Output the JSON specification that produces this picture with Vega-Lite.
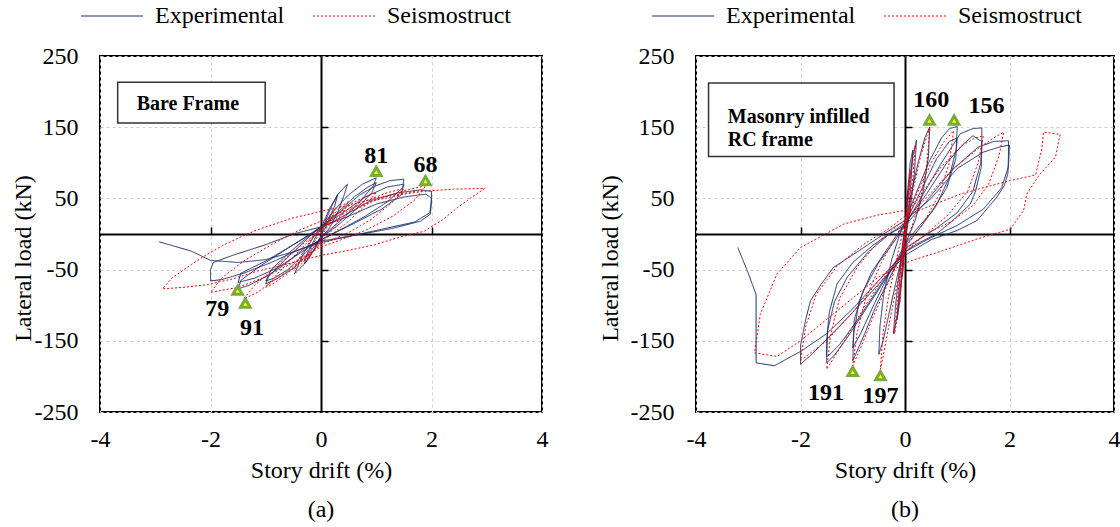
{
"$schema":"https://vega.github.io/schema/vega-lite/v6.json",
"autosize":{"type":"pad"},
"padding":{"left":10,"top":3,"right":5,"bottom":5},
"background":"white",
"spacing":154,
"bounds":"flush",
"config":{
 "font":"Liberation Serif",
 "view":{"stroke":"black","strokeWidth":2},
 "axis":{"labelFont":"Liberation Serif","titleFont":"Liberation Serif","labelFontSize":24,"titleFontSize":24,"labelColor":"black","titleColor":"black","titleFontWeight":"normal"},
 "text":{"font":"Liberation Serif"}
},
"datasets":{
"curves":[
{"p":"a","s":"E","i":1,"x":0,"y":0},{"p":"a","s":"E","i":2,"x":0.1,"y":22},{"p":"a","s":"E","i":3,"x":0.2,"y":40},{"p":"a","s":"E","i":4,"x":0.3,"y":55},{"p":"a","s":"E","i":5,"x":0.25,"y":40},{"p":"a","s":"E","i":6,"x":0.1,"y":12},{"p":"a","s":"E","i":7,"x":0,"y":-2},{"p":"a","s":"E","i":8,"x":-0.1,"y":-18},{"p":"a","s":"E","i":9,"x":-0.2,"y":-32},{"p":"a","s":"E","i":10,"x":-0.3,"y":-42},
{"p":"a","s":"E","i":11,"x":-0.25,"y":-28},{"p":"a","s":"E","i":12,"x":-0.1,"y":-5},{"p":"a","s":"E","i":13,"x":0,"y":8},{"p":"a","s":"E","i":14,"x":0.15,"y":35},{"p":"a","s":"E","i":15,"x":0.3,"y":55},{"p":"a","s":"E","i":16,"x":0.4,"y":64},{"p":"a","s":"E","i":17,"x":0.48,"y":70},{"p":"a","s":"E","i":18,"x":0.42,"y":55},{"p":"a","s":"E","i":19,"x":0.3,"y":30},{"p":"a","s":"E","i":20,"x":0.15,"y":8},
{"p":"a","s":"E","i":21,"x":0,"y":-5},{"p":"a","s":"E","i":22,"x":-0.15,"y":-25},{"p":"a","s":"E","i":23,"x":-0.3,"y":-42},{"p":"a","s":"E","i":24,"x":-0.48,"y":-56},{"p":"a","s":"E","i":25,"x":-0.42,"y":-45},{"p":"a","s":"E","i":26,"x":-0.3,"y":-25},{"p":"a","s":"E","i":27,"x":-0.1,"y":0},{"p":"a","s":"E","i":28,"x":0,"y":8},{"p":"a","s":"E","i":29,"x":0.2,"y":30},{"p":"a","s":"E","i":30,"x":0.5,"y":55},
{"p":"a","s":"E","i":31,"x":0.75,"y":70},{"p":"a","s":"E","i":32,"x":1.0,"y":79},{"p":"a","s":"E","i":33,"x":0.95,"y":68},{"p":"a","s":"E","i":34,"x":0.7,"y":45},{"p":"a","s":"E","i":35,"x":0.4,"y":22},{"p":"a","s":"E","i":36,"x":0.1,"y":2},{"p":"a","s":"E","i":37,"x":0,"y":-6},{"p":"a","s":"E","i":38,"x":-0.2,"y":-25},{"p":"a","s":"E","i":39,"x":-0.5,"y":-48},{"p":"a","s":"E","i":40,"x":-0.8,"y":-63},
{"p":"a","s":"E","i":41,"x":-1.0,"y":-70},{"p":"a","s":"E","i":42,"x":-0.95,"y":-60},{"p":"a","s":"E","i":43,"x":-0.7,"y":-40},{"p":"a","s":"E","i":44,"x":-0.4,"y":-18},{"p":"a","s":"E","i":45,"x":-0.1,"y":5},{"p":"a","s":"E","i":46,"x":0,"y":10},{"p":"a","s":"E","i":47,"x":0.3,"y":30},{"p":"a","s":"E","i":48,"x":0.6,"y":52},{"p":"a","s":"E","i":49,"x":0.85,"y":66},{"p":"a","s":"E","i":50,"x":1.0,"y":72},
{"p":"a","s":"E","i":51,"x":0.92,"y":58},{"p":"a","s":"E","i":52,"x":0.6,"y":32},{"p":"a","s":"E","i":53,"x":0.3,"y":12},{"p":"a","s":"E","i":54,"x":0,"y":-5},{"p":"a","s":"E","i":55,"x":-0.3,"y":-28},{"p":"a","s":"E","i":56,"x":-0.6,"y":-50},{"p":"a","s":"E","i":57,"x":-0.85,"y":-62},{"p":"a","s":"E","i":58,"x":-1.0,"y":-66},{"p":"a","s":"E","i":59,"x":-0.9,"y":-50},{"p":"a","s":"E","i":60,"x":-0.6,"y":-28},
{"p":"a","s":"E","i":61,"x":-0.3,"y":-8},{"p":"a","s":"E","i":62,"x":0,"y":10},{"p":"a","s":"E","i":63,"x":0.3,"y":28},{"p":"a","s":"E","i":64,"x":0.7,"y":55},{"p":"a","s":"E","i":65,"x":1.0,"y":68},{"p":"a","s":"E","i":66,"x":1.25,"y":75},{"p":"a","s":"E","i":67,"x":1.5,"y":77},{"p":"a","s":"E","i":68,"x":1.48,"y":65},{"p":"a","s":"E","i":69,"x":1.2,"y":45},{"p":"a","s":"E","i":70,"x":0.8,"y":25},
{"p":"a","s":"E","i":71,"x":0.4,"y":8},{"p":"a","s":"E","i":72,"x":0,"y":-8},{"p":"a","s":"E","i":73,"x":-0.3,"y":-20},{"p":"a","s":"E","i":74,"x":-0.7,"y":-45},{"p":"a","s":"E","i":75,"x":-1.0,"y":-60},{"p":"a","s":"E","i":76,"x":-1.3,"y":-72},{"p":"a","s":"E","i":77,"x":-1.5,"y":-77},{"p":"a","s":"E","i":78,"x":-1.45,"y":-65},{"p":"a","s":"E","i":79,"x":-1.1,"y":-45},{"p":"a","s":"E","i":80,"x":-0.7,"y":-25},
{"p":"a","s":"E","i":81,"x":-0.3,"y":-5},{"p":"a","s":"E","i":82,"x":0,"y":10},{"p":"a","s":"E","i":83,"x":0.4,"y":30},{"p":"a","s":"E","i":84,"x":0.8,"y":52},{"p":"a","s":"E","i":85,"x":1.2,"y":66},{"p":"a","s":"E","i":86,"x":1.5,"y":70},{"p":"a","s":"E","i":87,"x":1.45,"y":55},{"p":"a","s":"E","i":88,"x":1.1,"y":35},{"p":"a","s":"E","i":89,"x":0.6,"y":15},{"p":"a","s":"E","i":90,"x":0,"y":-8},
{"p":"a","s":"E","i":91,"x":-0.4,"y":-28},{"p":"a","s":"E","i":92,"x":-0.8,"y":-48},{"p":"a","s":"E","i":93,"x":-1.2,"y":-62},{"p":"a","s":"E","i":94,"x":-1.5,"y":-68},{"p":"a","s":"E","i":95,"x":-1.45,"y":-55},{"p":"a","s":"E","i":96,"x":-1.0,"y":-38},{"p":"a","s":"E","i":97,"x":-0.5,"y":-15},{"p":"a","s":"E","i":98,"x":0,"y":8},{"p":"a","s":"E","i":99,"x":0.4,"y":25},{"p":"a","s":"E","i":100,"x":0.9,"y":47},
{"p":"a","s":"E","i":101,"x":1.4,"y":58},{"p":"a","s":"E","i":102,"x":1.8,"y":62},{"p":"a","s":"E","i":103,"x":2.0,"y":60},{"p":"a","s":"E","i":104,"x":2.0,"y":45},{"p":"a","s":"E","i":105,"x":1.98,"y":28},{"p":"a","s":"E","i":106,"x":1.8,"y":18},{"p":"a","s":"E","i":107,"x":1.3,"y":8},{"p":"a","s":"E","i":108,"x":0.6,"y":-2},{"p":"a","s":"E","i":109,"x":0,"y":-10},{"p":"a","s":"E","i":110,"x":-0.4,"y":-22},
{"p":"a","s":"E","i":111,"x":-0.9,"y":-40},{"p":"a","s":"E","i":112,"x":-1.4,"y":-55},{"p":"a","s":"E","i":113,"x":-1.8,"y":-64},{"p":"a","s":"E","i":114,"x":-2.0,"y":-66},{"p":"a","s":"E","i":115,"x":-2.0,"y":-50},{"p":"a","s":"E","i":116,"x":-1.95,"y":-40},{"p":"a","s":"E","i":117,"x":-1.6,"y":-30},{"p":"a","s":"E","i":118,"x":-1.0,"y":-15},{"p":"a","s":"E","i":119,"x":-0.5,"y":0},{"p":"a","s":"E","i":120,"x":0,"y":10},
{"p":"a","s":"E","i":121,"x":0.5,"y":25},{"p":"a","s":"E","i":122,"x":1.0,"y":42},{"p":"a","s":"E","i":123,"x":1.5,"y":52},{"p":"a","s":"E","i":124,"x":1.9,"y":56},{"p":"a","s":"E","i":125,"x":2.0,"y":50},{"p":"a","s":"E","i":126,"x":1.97,"y":30},{"p":"a","s":"E","i":127,"x":1.7,"y":17},{"p":"a","s":"E","i":128,"x":1.0,"y":5},{"p":"a","s":"E","i":129,"x":0.4,"y":-5},{"p":"a","s":"E","i":130,"x":0,"y":-12},
{"p":"a","s":"E","i":131,"x":-0.5,"y":-25},{"p":"a","s":"E","i":132,"x":-1.0,"y":-36},{"p":"a","s":"E","i":133,"x":-1.5,"y":-40},{"p":"a","s":"E","i":134,"x":-2.0,"y":-37},{"p":"a","s":"E","i":135,"x":-2.35,"y":-24},{"p":"a","s":"E","i":136,"x":-2.93,"y":-11},
{"p":"a","s":"S","i":1,"x":0,"y":0},{"p":"a","s":"S","i":2,"x":0.1,"y":18},{"p":"a","s":"S","i":3,"x":0.25,"y":35},{"p":"a","s":"S","i":4,"x":0.15,"y":15},{"p":"a","s":"S","i":5,"x":0,"y":-5},{"p":"a","s":"S","i":6,"x":-0.1,"y":-20},{"p":"a","s":"S","i":7,"x":-0.25,"y":-35},{"p":"a","s":"S","i":8,"x":-0.15,"y":-15},{"p":"a","s":"S","i":9,"x":0,"y":5},{"p":"a","s":"S","i":10,"x":0.2,"y":25},
{"p":"a","s":"S","i":11,"x":0.35,"y":38},{"p":"a","s":"S","i":12,"x":0.5,"y":46},{"p":"a","s":"S","i":13,"x":0.4,"y":30},{"p":"a","s":"S","i":14,"x":0.2,"y":5},{"p":"a","s":"S","i":15,"x":0,"y":-12},{"p":"a","s":"S","i":16,"x":-0.2,"y":-28},{"p":"a","s":"S","i":17,"x":-0.35,"y":-42},{"p":"a","s":"S","i":18,"x":-0.5,"y":-50},{"p":"a","s":"S","i":19,"x":-0.4,"y":-35},{"p":"a","s":"S","i":20,"x":-0.2,"y":-10},
{"p":"a","s":"S","i":21,"x":0,"y":10},{"p":"a","s":"S","i":22,"x":0.3,"y":28},{"p":"a","s":"S","i":23,"x":0.6,"y":45},{"p":"a","s":"S","i":24,"x":0.85,"y":54},{"p":"a","s":"S","i":25,"x":1.0,"y":58},{"p":"a","s":"S","i":26,"x":0.8,"y":40},{"p":"a","s":"S","i":27,"x":0.5,"y":18},{"p":"a","s":"S","i":28,"x":0.2,"y":0},{"p":"a","s":"S","i":29,"x":0,"y":-12},{"p":"a","s":"S","i":30,"x":-0.3,"y":-35},
{"p":"a","s":"S","i":31,"x":-0.6,"y":-55},{"p":"a","s":"S","i":32,"x":-0.85,"y":-69},{"p":"a","s":"S","i":33,"x":-1.0,"y":-75},{"p":"a","s":"S","i":34,"x":-0.8,"y":-57},{"p":"a","s":"S","i":35,"x":-0.5,"y":-32},{"p":"a","s":"S","i":36,"x":-0.2,"y":-8},{"p":"a","s":"S","i":37,"x":0,"y":8},{"p":"a","s":"S","i":38,"x":0.4,"y":28},{"p":"a","s":"S","i":39,"x":0.8,"y":46},{"p":"a","s":"S","i":40,"x":1.2,"y":58},
{"p":"a","s":"S","i":41,"x":1.5,"y":64},{"p":"a","s":"S","i":42,"x":1.3,"y":45},{"p":"a","s":"S","i":43,"x":0.9,"y":20},{"p":"a","s":"S","i":44,"x":0.5,"y":2},{"p":"a","s":"S","i":45,"x":0,"y":-15},{"p":"a","s":"S","i":46,"x":-0.4,"y":-40},{"p":"a","s":"S","i":47,"x":-0.8,"y":-62},{"p":"a","s":"S","i":48,"x":-1.15,"y":-82},{"p":"a","s":"S","i":49,"x":-1.4,"y":-91},{"p":"a","s":"S","i":50,"x":-1.2,"y":-72},
{"p":"a","s":"S","i":51,"x":-0.8,"y":-45},{"p":"a","s":"S","i":52,"x":-0.4,"y":-18},{"p":"a","s":"S","i":53,"x":0,"y":5},{"p":"a","s":"S","i":54,"x":0.5,"y":30},{"p":"a","s":"S","i":55,"x":1.0,"y":48},{"p":"a","s":"S","i":56,"x":1.5,"y":61},{"p":"a","s":"S","i":57,"x":1.9,"y":68},{"p":"a","s":"S","i":58,"x":1.7,"y":48},{"p":"a","s":"S","i":59,"x":1.3,"y":25},{"p":"a","s":"S","i":60,"x":0.8,"y":5},
{"p":"a","s":"S","i":61,"x":0.3,"y":-10},{"p":"a","s":"S","i":62,"x":0,"y":-18},{"p":"a","s":"S","i":63,"x":-0.5,"y":-40},{"p":"a","s":"S","i":64,"x":-1.0,"y":-60},{"p":"a","s":"S","i":65,"x":-1.5,"y":-75},{"p":"a","s":"S","i":66,"x":-2.0,"y":-82},{"p":"a","s":"S","i":67,"x":-1.8,"y":-62},{"p":"a","s":"S","i":68,"x":-1.4,"y":-38},{"p":"a","s":"S","i":69,"x":-0.9,"y":-15},{"p":"a","s":"S","i":70,"x":-0.4,"y":5},
{"p":"a","s":"S","i":71,"x":0,"y":18},{"p":"a","s":"S","i":72,"x":0.5,"y":35},{"p":"a","s":"S","i":73,"x":0.97,"y":47},{"p":"a","s":"S","i":74,"x":1.5,"y":56},{"p":"a","s":"S","i":75,"x":1.87,"y":60},{"p":"a","s":"S","i":76,"x":2.4,"y":63},{"p":"a","s":"S","i":77,"x":2.96,"y":64},{"p":"a","s":"S","i":78,"x":2.7,"y":50},{"p":"a","s":"S","i":79,"x":2.47,"y":37},{"p":"a","s":"S","i":80,"x":2.2,"y":20},
{"p":"a","s":"S","i":81,"x":1.87,"y":4},{"p":"a","s":"S","i":82,"x":1.4,"y":-5},{"p":"a","s":"S","i":83,"x":0.97,"y":-15},{"p":"a","s":"S","i":84,"x":0.5,"y":-23},{"p":"a","s":"S","i":85,"x":0,"y":-30},{"p":"a","s":"S","i":86,"x":-0.6,"y":-42},{"p":"a","s":"S","i":87,"x":-1.15,"y":-52},{"p":"a","s":"S","i":88,"x":-1.6,"y":-63},{"p":"a","s":"S","i":89,"x":-2.05,"y":-71},{"p":"a","s":"S","i":90,"x":-2.5,"y":-75},
{"p":"a","s":"S","i":91,"x":-2.87,"y":-77},{"p":"a","s":"S","i":92,"x":-2.7,"y":-62},{"p":"a","s":"S","i":93,"x":-2.35,"y":-43},{"p":"a","s":"S","i":94,"x":-2.05,"y":-28},{"p":"a","s":"S","i":95,"x":-1.75,"y":-15},{"p":"a","s":"S","i":96,"x":-1.45,"y":-4},{"p":"a","s":"S","i":97,"x":-1.15,"y":6},{"p":"a","s":"S","i":98,"x":-0.8,"y":15},{"p":"a","s":"S","i":99,"x":-0.54,"y":22},{"p":"a","s":"S","i":100,"x":-0.2,"y":28},
{"p":"a","s":"S","i":101,"x":0,"y":32},{"p":"a","s":"S","i":102,"x":0.5,"y":40},{"p":"a","s":"S","i":103,"x":0.97,"y":50},{"p":"a","s":"S","i":104,"x":1.87,"y":62},
{"p":"b","s":"E","i":1,"x":0,"y":0},{"p":"b","s":"E","i":2,"x":0.03,"y":40},{"p":"b","s":"E","i":3,"x":0.05,"y":60},{"p":"b","s":"E","i":4,"x":0.03,"y":30},{"p":"b","s":"E","i":5,"x":0,"y":0},{"p":"b","s":"E","i":6,"x":-0.03,"y":-40},{"p":"b","s":"E","i":7,"x":-0.05,"y":-60},{"p":"b","s":"E","i":8,"x":-0.03,"y":-25},{"p":"b","s":"E","i":9,"x":0,"y":5},{"p":"b","s":"E","i":10,"x":0.05,"y":60},
{"p":"b","s":"E","i":11,"x":0.1,"y":100},{"p":"b","s":"E","i":12,"x":0.15,"y":118},{"p":"b","s":"E","i":13,"x":0.12,"y":80},{"p":"b","s":"E","i":14,"x":0.07,"y":30},{"p":"b","s":"E","i":15,"x":0,"y":-10},{"p":"b","s":"E","i":16,"x":-0.05,"y":-50},{"p":"b","s":"E","i":17,"x":-0.1,"y":-95},{"p":"b","s":"E","i":18,"x":-0.15,"y":-120},{"p":"b","s":"E","i":19,"x":-0.12,"y":-85},{"p":"b","s":"E","i":20,"x":-0.07,"y":-35},
{"p":"b","s":"E","i":21,"x":0,"y":10},{"p":"b","s":"E","i":22,"x":0.08,"y":70},{"p":"b","s":"E","i":23,"x":0.15,"y":110},{"p":"b","s":"E","i":24,"x":0.22,"y":132},{"p":"b","s":"E","i":25,"x":0.18,"y":85},{"p":"b","s":"E","i":26,"x":0.1,"y":35},{"p":"b","s":"E","i":27,"x":0,"y":-12},{"p":"b","s":"E","i":28,"x":-0.08,"y":-70},{"p":"b","s":"E","i":29,"x":-0.15,"y":-115},{"p":"b","s":"E","i":30,"x":-0.22,"y":-140},
{"p":"b","s":"E","i":31,"x":-0.18,"y":-100},{"p":"b","s":"E","i":32,"x":-0.1,"y":-45},{"p":"b","s":"E","i":33,"x":0,"y":12},{"p":"b","s":"E","i":34,"x":0.1,"y":50},{"p":"b","s":"E","i":35,"x":0.25,"y":100},{"p":"b","s":"E","i":36,"x":0.38,"y":135},{"p":"b","s":"E","i":37,"x":0.47,"y":150},{"p":"b","s":"E","i":38,"x":0.45,"y":110},{"p":"b","s":"E","i":39,"x":0.35,"y":60},{"p":"b","s":"E","i":40,"x":0.2,"y":20},
{"p":"b","s":"E","i":41,"x":0,"y":-15},{"p":"b","s":"E","i":42,"x":-0.15,"y":-60},{"p":"b","s":"E","i":43,"x":-0.3,"y":-110},{"p":"b","s":"E","i":44,"x":-0.42,"y":-150},{"p":"b","s":"E","i":45,"x":-0.5,"y":-169},{"p":"b","s":"E","i":46,"x":-0.48,"y":-130},{"p":"b","s":"E","i":47,"x":-0.4,"y":-80},{"p":"b","s":"E","i":48,"x":-0.25,"y":-35},{"p":"b","s":"E","i":49,"x":-0.1,"y":0},{"p":"b","s":"E","i":50,"x":0,"y":18},
{"p":"b","s":"E","i":51,"x":0.2,"y":55},{"p":"b","s":"E","i":52,"x":0.45,"y":100},{"p":"b","s":"E","i":53,"x":0.7,"y":135},{"p":"b","s":"E","i":54,"x":0.85,"y":148},{"p":"b","s":"E","i":55,"x":1.0,"y":151},{"p":"b","s":"E","i":56,"x":0.98,"y":120},{"p":"b","s":"E","i":57,"x":0.85,"y":80},{"p":"b","s":"E","i":58,"x":0.6,"y":40},{"p":"b","s":"E","i":59,"x":0.3,"y":10},{"p":"b","s":"E","i":60,"x":0,"y":-18},
{"p":"b","s":"E","i":61,"x":-0.25,"y":-55},{"p":"b","s":"E","i":62,"x":-0.55,"y":-100},{"p":"b","s":"E","i":63,"x":-0.8,"y":-145},{"p":"b","s":"E","i":64,"x":-1.0,"y":-178},{"p":"b","s":"E","i":65,"x":-0.98,"y":-140},{"p":"b","s":"E","i":66,"x":-0.88,"y":-95},{"p":"b","s":"E","i":67,"x":-0.65,"y":-55},{"p":"b","s":"E","i":68,"x":-0.35,"y":-22},{"p":"b","s":"E","i":69,"x":0,"y":15},{"p":"b","s":"E","i":70,"x":0.3,"y":60},
{"p":"b","s":"E","i":71,"x":0.6,"y":105},{"p":"b","s":"E","i":72,"x":0.85,"y":130},{"p":"b","s":"E","i":73,"x":1.0,"y":135},{"p":"b","s":"E","i":74,"x":0.97,"y":105},{"p":"b","s":"E","i":75,"x":0.8,"y":65},{"p":"b","s":"E","i":76,"x":0.5,"y":30},{"p":"b","s":"E","i":77,"x":0.2,"y":5},{"p":"b","s":"E","i":78,"x":0,"y":-15},{"p":"b","s":"E","i":79,"x":-0.3,"y":-55},{"p":"b","s":"E","i":80,"x":-0.6,"y":-100},
{"p":"b","s":"E","i":81,"x":-0.85,"y":-140},{"p":"b","s":"E","i":82,"x":-1.0,"y":-160},{"p":"b","s":"E","i":83,"x":-0.97,"y":-120},{"p":"b","s":"E","i":84,"x":-0.8,"y":-80},{"p":"b","s":"E","i":85,"x":-0.5,"y":-40},{"p":"b","s":"E","i":86,"x":-0.2,"y":-10},{"p":"b","s":"E","i":87,"x":0,"y":12},{"p":"b","s":"E","i":88,"x":0.3,"y":50},{"p":"b","s":"E","i":89,"x":0.7,"y":100},{"p":"b","s":"E","i":90,"x":1.06,"y":141},
{"p":"b","s":"E","i":91,"x":1.3,"y":148},{"p":"b","s":"E","i":92,"x":1.47,"y":149},{"p":"b","s":"E","i":93,"x":1.47,"y":120},{"p":"b","s":"E","i":94,"x":1.46,"y":94},{"p":"b","s":"E","i":95,"x":1.35,"y":60},{"p":"b","s":"E","i":96,"x":1.25,"y":42},{"p":"b","s":"E","i":97,"x":0.9,"y":18},{"p":"b","s":"E","i":98,"x":0.6,"y":0},{"p":"b","s":"E","i":99,"x":0.2,"y":-15},{"p":"b","s":"E","i":100,"x":0,"y":-25},
{"p":"b","s":"E","i":101,"x":-0.3,"y":-55},{"p":"b","s":"E","i":102,"x":-0.7,"y":-100},{"p":"b","s":"E","i":103,"x":-1.1,"y":-145},{"p":"b","s":"E","i":104,"x":-1.35,"y":-170},{"p":"b","s":"E","i":105,"x":-1.5,"y":-181},{"p":"b","s":"E","i":106,"x":-1.5,"y":-150},{"p":"b","s":"E","i":107,"x":-1.45,"y":-110},{"p":"b","s":"E","i":108,"x":-1.3,"y":-70},{"p":"b","s":"E","i":109,"x":-1.0,"y":-40},{"p":"b","s":"E","i":110,"x":-0.6,"y":-15},
{"p":"b","s":"E","i":111,"x":-0.2,"y":5},{"p":"b","s":"E","i":112,"x":0,"y":15},{"p":"b","s":"E","i":113,"x":0.4,"y":55},{"p":"b","s":"E","i":114,"x":0.8,"y":100},{"p":"b","s":"E","i":115,"x":1.1,"y":125},{"p":"b","s":"E","i":116,"x":1.3,"y":138},{"p":"b","s":"E","i":117,"x":1.4,"y":133},{"p":"b","s":"E","i":118,"x":1.47,"y":130},{"p":"b","s":"E","i":119,"x":1.45,"y":100},{"p":"b","s":"E","i":120,"x":1.3,"y":60},
{"p":"b","s":"E","i":121,"x":1.0,"y":30},{"p":"b","s":"E","i":122,"x":0.6,"y":8},{"p":"b","s":"E","i":123,"x":0,"y":-20},{"p":"b","s":"E","i":124,"x":-0.5,"y":-75},{"p":"b","s":"E","i":125,"x":-0.9,"y":-120},{"p":"b","s":"E","i":126,"x":-1.25,"y":-155},{"p":"b","s":"E","i":127,"x":-1.45,"y":-170},{"p":"b","s":"E","i":128,"x":-1.5,"y":-172},{"p":"b","s":"E","i":129,"x":-1.48,"y":-135},{"p":"b","s":"E","i":130,"x":-1.35,"y":-95},
{"p":"b","s":"E","i":131,"x":-1.1,"y":-60},{"p":"b","s":"E","i":132,"x":-0.7,"y":-25},{"p":"b","s":"E","i":133,"x":-0.3,"y":0},{"p":"b","s":"E","i":134,"x":0,"y":12},{"p":"b","s":"E","i":135,"x":0.4,"y":45},{"p":"b","s":"E","i":136,"x":0.9,"y":90},{"p":"b","s":"E","i":137,"x":1.4,"y":122},{"p":"b","s":"E","i":138,"x":1.7,"y":130},{"p":"b","s":"E","i":139,"x":1.98,"y":131},{"p":"b","s":"E","i":140,"x":1.98,"y":110},
{"p":"b","s":"E","i":141,"x":1.97,"y":85},{"p":"b","s":"E","i":142,"x":1.9,"y":68},{"p":"b","s":"E","i":143,"x":1.76,"y":52},{"p":"b","s":"E","i":144,"x":1.38,"y":19},{"p":"b","s":"E","i":145,"x":1.0,"y":5},{"p":"b","s":"E","i":146,"x":0.5,"y":-8},{"p":"b","s":"E","i":147,"x":0,"y":-30},{"p":"b","s":"E","i":148,"x":-0.5,"y":-70},{"p":"b","s":"E","i":149,"x":-1.0,"y":-110},{"p":"b","s":"E","i":150,"x":-1.5,"y":-148},
{"p":"b","s":"E","i":151,"x":-1.8,"y":-170},{"p":"b","s":"E","i":152,"x":-2.0,"y":-183},{"p":"b","s":"E","i":153,"x":-2.0,"y":-157},{"p":"b","s":"E","i":154,"x":-1.9,"y":-120},{"p":"b","s":"E","i":155,"x":-1.81,"y":-94},{"p":"b","s":"E","i":156,"x":-1.6,"y":-70},{"p":"b","s":"E","i":157,"x":-1.37,"y":-47},{"p":"b","s":"E","i":158,"x":-0.79,"y":-19},{"p":"b","s":"E","i":159,"x":-0.22,"y":9},{"p":"b","s":"E","i":160,"x":0,"y":19},
{"p":"b","s":"E","i":161,"x":0.5,"y":50},{"p":"b","s":"E","i":162,"x":1.0,"y":92},{"p":"b","s":"E","i":163,"x":1.5,"y":115},{"p":"b","s":"E","i":164,"x":1.8,"y":122},{"p":"b","s":"E","i":165,"x":2.0,"y":125},{"p":"b","s":"E","i":166,"x":1.98,"y":95},{"p":"b","s":"E","i":167,"x":1.85,"y":65},{"p":"b","s":"E","i":168,"x":1.5,"y":35},{"p":"b","s":"E","i":169,"x":1.0,"y":12},{"p":"b","s":"E","i":170,"x":0.5,"y":-5},
{"p":"b","s":"E","i":171,"x":0,"y":-25},{"p":"b","s":"E","i":172,"x":-0.5,"y":-65},{"p":"b","s":"E","i":173,"x":-1.0,"y":-105},{"p":"b","s":"E","i":174,"x":-1.5,"y":-140},{"p":"b","s":"E","i":175,"x":-2.0,"y":-165},{"p":"b","s":"E","i":176,"x":-2.5,"y":-185},{"p":"b","s":"E","i":177,"x":-2.85,"y":-181},{"p":"b","s":"E","i":178,"x":-2.85,"y":-140},{"p":"b","s":"E","i":179,"x":-2.85,"y":-85},{"p":"b","s":"E","i":180,"x":-3.0,"y":-55},
{"p":"b","s":"E","i":181,"x":-3.2,"y":-19},
{"p":"b","s":"S","i":1,"x":0,"y":0},{"p":"b","s":"S","i":2,"x":0.05,"y":50},{"p":"b","s":"S","i":3,"x":0.1,"y":90},{"p":"b","s":"S","i":4,"x":0.06,"y":45},{"p":"b","s":"S","i":5,"x":0,"y":-5},{"p":"b","s":"S","i":6,"x":-0.05,"y":-55},{"p":"b","s":"S","i":7,"x":-0.1,"y":-95},{"p":"b","s":"S","i":8,"x":-0.06,"y":-45},{"p":"b","s":"S","i":9,"x":0,"y":5},{"p":"b","s":"S","i":10,"x":0.08,"y":60},
{"p":"b","s":"S","i":11,"x":0.15,"y":105},{"p":"b","s":"S","i":12,"x":0.2,"y":125},{"p":"b","s":"S","i":13,"x":0.15,"y":80},{"p":"b","s":"S","i":14,"x":0.05,"y":20},{"p":"b","s":"S","i":15,"x":0,"y":-15},{"p":"b","s":"S","i":16,"x":-0.08,"y":-75},{"p":"b","s":"S","i":17,"x":-0.15,"y":-120},{"p":"b","s":"S","i":18,"x":-0.2,"y":-140},{"p":"b","s":"S","i":19,"x":-0.15,"y":-95},{"p":"b","s":"S","i":20,"x":-0.05,"y":-25},
{"p":"b","s":"S","i":21,"x":0,"y":12},{"p":"b","s":"S","i":22,"x":0.15,"y":60},{"p":"b","s":"S","i":23,"x":0.3,"y":110},{"p":"b","s":"S","i":24,"x":0.42,"y":138},{"p":"b","s":"S","i":25,"x":0.48,"y":150},{"p":"b","s":"S","i":26,"x":0.42,"y":100},{"p":"b","s":"S","i":27,"x":0.3,"y":50},{"p":"b","s":"S","i":28,"x":0.15,"y":15},{"p":"b","s":"S","i":29,"x":0,"y":-20},{"p":"b","s":"S","i":30,"x":-0.15,"y":-70},
{"p":"b","s":"S","i":31,"x":-0.3,"y":-125},{"p":"b","s":"S","i":32,"x":-0.4,"y":-165},{"p":"b","s":"S","i":33,"x":-0.47,"y":-190},{"p":"b","s":"S","i":34,"x":-0.42,"y":-140},{"p":"b","s":"S","i":35,"x":-0.32,"y":-90},{"p":"b","s":"S","i":36,"x":-0.18,"y":-40},{"p":"b","s":"S","i":37,"x":0,"y":15},{"p":"b","s":"S","i":38,"x":0.25,"y":60},{"p":"b","s":"S","i":39,"x":0.5,"y":100},{"p":"b","s":"S","i":40,"x":0.75,"y":130},
{"p":"b","s":"S","i":41,"x":0.93,"y":145},{"p":"b","s":"S","i":42,"x":0.85,"y":100},{"p":"b","s":"S","i":43,"x":0.65,"y":55},{"p":"b","s":"S","i":44,"x":0.35,"y":15},{"p":"b","s":"S","i":45,"x":0,"y":-20},{"p":"b","s":"S","i":46,"x":-0.3,"y":-65},{"p":"b","s":"S","i":47,"x":-0.6,"y":-115},{"p":"b","s":"S","i":48,"x":-0.85,"y":-160},{"p":"b","s":"S","i":49,"x":-1.0,"y":-185},{"p":"b","s":"S","i":50,"x":-0.92,"y":-140},
{"p":"b","s":"S","i":51,"x":-0.75,"y":-90},{"p":"b","s":"S","i":52,"x":-0.45,"y":-40},{"p":"b","s":"S","i":53,"x":-0.15,"y":0},{"p":"b","s":"S","i":54,"x":0,"y":20},{"p":"b","s":"S","i":55,"x":0.3,"y":55},{"p":"b","s":"S","i":56,"x":0.7,"y":95},{"p":"b","s":"S","i":57,"x":1.1,"y":125},{"p":"b","s":"S","i":58,"x":1.35,"y":135},{"p":"b","s":"S","i":59,"x":1.5,"y":138},{"p":"b","s":"S","i":60,"x":1.4,"y":100},
{"p":"b","s":"S","i":61,"x":1.2,"y":60},{"p":"b","s":"S","i":62,"x":0.8,"y":25},{"p":"b","s":"S","i":63,"x":0.4,"y":0},{"p":"b","s":"S","i":64,"x":0,"y":-22},{"p":"b","s":"S","i":65,"x":-0.4,"y":-60},{"p":"b","s":"S","i":66,"x":-0.8,"y":-105},{"p":"b","s":"S","i":67,"x":-1.2,"y":-155},{"p":"b","s":"S","i":68,"x":-1.5,"y":-190},{"p":"b","s":"S","i":69,"x":-1.42,"y":-140},{"p":"b","s":"S","i":70,"x":-1.25,"y":-90},
{"p":"b","s":"S","i":71,"x":-0.9,"y":-45},{"p":"b","s":"S","i":72,"x":-0.5,"y":-10},{"p":"b","s":"S","i":73,"x":0,"y":20},{"p":"b","s":"S","i":74,"x":0.4,"y":50},{"p":"b","s":"S","i":75,"x":0.9,"y":90},{"p":"b","s":"S","i":76,"x":1.4,"y":120},{"p":"b","s":"S","i":77,"x":1.7,"y":135},{"p":"b","s":"S","i":78,"x":1.89,"y":143},{"p":"b","s":"S","i":79,"x":1.8,"y":110},{"p":"b","s":"S","i":80,"x":1.6,"y":70},
{"p":"b","s":"S","i":81,"x":1.3,"y":40},{"p":"b","s":"S","i":82,"x":0.9,"y":18},{"p":"b","s":"S","i":83,"x":0.4,"y":0},{"p":"b","s":"S","i":84,"x":0,"y":-25},{"p":"b","s":"S","i":85,"x":-0.5,"y":-65},{"p":"b","s":"S","i":86,"x":-1.0,"y":-110},{"p":"b","s":"S","i":87,"x":-1.5,"y":-150},{"p":"b","s":"S","i":88,"x":-2.0,"y":-178},{"p":"b","s":"S","i":89,"x":-1.9,"y":-130},{"p":"b","s":"S","i":90,"x":-1.7,"y":-85},
{"p":"b","s":"S","i":91,"x":-1.3,"y":-45},{"p":"b","s":"S","i":92,"x":-0.8,"y":-15},{"p":"b","s":"S","i":93,"x":-0.3,"y":8},{"p":"b","s":"S","i":94,"x":0,"y":25},{"p":"b","s":"S","i":95,"x":0.5,"y":40},{"p":"b","s":"S","i":96,"x":1.06,"y":56},{"p":"b","s":"S","i":97,"x":1.6,"y":67},{"p":"b","s":"S","i":98,"x":2.02,"y":75},{"p":"b","s":"S","i":99,"x":2.5,"y":83},{"p":"b","s":"S","i":100,"x":2.62,"y":120},
{"p":"b","s":"S","i":101,"x":2.65,"y":143},{"p":"b","s":"S","i":102,"x":2.97,"y":140},{"p":"b","s":"S","i":103,"x":2.88,"y":108},{"p":"b","s":"S","i":104,"x":2.56,"y":82},{"p":"b","s":"S","i":105,"x":2.33,"y":56},{"p":"b","s":"S","i":106,"x":2.27,"y":33},{"p":"b","s":"S","i":107,"x":2.02,"y":7},{"p":"b","s":"S","i":108,"x":1.38,"y":-7},{"p":"b","s":"S","i":109,"x":0.74,"y":-23},{"p":"b","s":"S","i":110,"x":0.1,"y":-38},
{"p":"b","s":"S","i":111,"x":-0.5,"y":-60},{"p":"b","s":"S","i":112,"x":-1.0,"y":-90},{"p":"b","s":"S","i":113,"x":-1.5,"y":-120},{"p":"b","s":"S","i":114,"x":-2.0,"y":-150},{"p":"b","s":"S","i":115,"x":-2.45,"y":-172},{"p":"b","s":"S","i":116,"x":-2.88,"y":-167},{"p":"b","s":"S","i":117,"x":-2.77,"y":-113},{"p":"b","s":"S","i":118,"x":-2.45,"y":-56},{"p":"b","s":"S","i":119,"x":-2.0,"y":-19},{"p":"b","s":"S","i":120,"x":-1.17,"y":14},
{"p":"b","s":"S","i":121,"x":-0.5,"y":27},{"p":"b","s":"S","i":122,"x":0,"y":33}
],
"pts":[
{"p":"a","x":1.0,"y":88,"lx":1.0,"ly":109,"label":"81"},
{"p":"a","x":1.89,"y":75,"lx":1.89,"ly":97,"label":"68"},
{"p":"a","x":-1.51,"y":-79,"lx":-1.88,"ly":-106,"label":"79"},
{"p":"a","x":-1.37,"y":-97,"lx":-1.25,"ly":-132,"label":"91"},
{"p":"b","x":0.47,"y":160,"lx":0.5,"ly":188,"label":"160"},
{"p":"b","x":0.94,"y":160,"lx":1.56,"ly":180,"label":"156"},
{"p":"b","x":-1.0,"y":-193,"lx":-1.51,"ly":-223,"label":"191"},
{"p":"b","x":-0.47,"y":-199,"lx":-0.47,"ly":-228,"label":"197"}
]
},
"resolve":{"legend":{"color":"independent","strokeDash":"independent"}},
"hconcat":[
{
"width":442,"height":356,
"title":{"text":"(a)","orient":"bottom","offset":16,"fontSize":24,"fontWeight":"normal","font":"Liberation Serif","color":"black"},
"resolve":{"axis":{"x":"independent","y":"independent"}},
"layer":[
{"data":{"name":"curves"},"transform":[{"filter":"datum.p=='a'"}],
 "mark":{"type":"line","strokeWidth":1},
 "encoding":{
  "x":{"field":"x","type":"quantitative","scale":{"domain":[-4,4],"nice":false},"axis":{"values":[-4,-2,0,2,4],"title":"Story drift (%)","grid":true,"gridColor":"#d0d0d0","gridDash":[3,3],"gridWidth":1,"ticks":false,"domain":false,"labelPadding":15,"titlePadding":7,"labelFlush":false,"labelOverlap":false,"labelExpr":"''+datum.value"}},
  "y":{"field":"y","type":"quantitative","scale":{"domain":[-250,250],"nice":false},"axis":{"values":[-250,-150,-50,50,150,250],"title":"Lateral load (kN)","grid":true,"gridColor":"#d0d0d0","gridDash":[3,3],"gridWidth":1,"ticks":false,"domain":false,"labelPadding":22,"labelFlush":false,"labelOverlap":false,"labelExpr":"''+datum.value","titleX":-77,"titleY":202,"titleBaseline":"middle"}},
  "order":{"field":"i","type":"quantitative"},
  "color":{"field":"s","type":"nominal","scale":{"domain":["E","S"],"range":["#1c2d6b","#ff0000"]},"legend":{"title":null,"orient":"none","legendX":0,"legendY":-52,"direction":"horizontal","symbolType":"M-10,0H10","symbolSize":38.44,"symbolStrokeWidth":1,"labelFontSize":24,"labelFont":"Liberation Serif","labelColor":"black","labelOffset":31,"columnPadding":26,"labelLimit":0,"labelExpr":"datum.label=='E'?'Experimental':'Seismostruct'"}},
  "strokeDash":{"field":"s","type":"nominal","scale":{"domain":["E","S"],"range":[[1,0],[2,2]]},"legend":{"title":null,"orient":"none","legendX":0,"legendY":-52,"direction":"horizontal","symbolType":"M-10,0H10","symbolSize":38.44,"symbolStrokeWidth":1,"labelFontSize":24,"labelFont":"Liberation Serif","labelColor":"black","labelOffset":31,"columnPadding":26,"labelLimit":0,"labelExpr":"datum.label=='E'?'Experimental':'Seismostruct'"}}
 }},
{"data":{"name":"pts"},"transform":[{"filter":"datum.p=='a'"}],
 "mark":{"type":"point","shape":"triangle-up","filled":true,"fill":"#ffff00","stroke":"#77ac3c","strokeWidth":3,"size":90,"opacity":1},
 "encoding":{
  "x":{"field":"x","type":"quantitative","scale":{"domain":[-4,4],"nice":false},"axis":{"orient":"bottom","offset":-178,"values":[-2,2],"labels":false,"grid":false,"domain":true,"domainColor":"black","domainWidth":2,"ticks":true,"tickSize":-7,"tickColor":"black","tickWidth":1.5,"title":null}},
  "y":{"field":"y","type":"quantitative","scale":{"domain":[-250,250],"nice":false},"axis":{"orient":"left","offset":-221,"values":[-150,-50,50,150],"labels":false,"grid":false,"domain":true,"domainColor":"black","domainWidth":2,"ticks":true,"tickSize":-7,"tickColor":"black","tickWidth":1.5,"title":null}}
 }},
{"data":{"name":"pts"},"transform":[{"filter":"datum.p=='a'"}],
 "mark":{"type":"text","fontSize":24,"fontWeight":"bold","font":"Liberation Serif","baseline":"middle","align":"center","color":"black"},
 "encoding":{
  "x":{"field":"lx","type":"quantitative","scale":{"domain":[-4,4],"nice":false},"axis":null},
  "y":{"field":"ly","type":"quantitative","scale":{"domain":[-250,250],"nice":false},"axis":null},
  "text":{"field":"label"}
 }},
{"data":{"values":[{}]},
 "mark":{"type":"rect","fill":"white","stroke":"#333333","strokeWidth":1.5},
 "encoding":{
  "x":{"datum":-3.68,"type":"quantitative","scale":{"domain":[-4,4],"nice":false},"axis":null},"x2":{"datum":-1.01},
  "y":{"datum":213,"type":"quantitative","scale":{"domain":[-250,250],"nice":false},"axis":null},"y2":{"datum":156}
 }},
{"data":{"values":[{}]},
 "mark":{"type":"text","text":"Bare Frame","fontSize":20,"fontWeight":"bold","font":"Liberation Serif","align":"center","baseline":"middle","color":"black"},
 "encoding":{
  "x":{"datum":-2.41,"type":"quantitative","scale":{"domain":[-4,4],"nice":false},"axis":null},
  "y":{"datum":183,"type":"quantitative","scale":{"domain":[-250,250],"nice":false},"axis":null}
 }}
]
},
{
"width":418,"height":356,
"title":{"text":"(b)","orient":"bottom","offset":16,"fontSize":24,"fontWeight":"normal","font":"Liberation Serif","color":"black"},
"resolve":{"axis":{"x":"independent","y":"independent"}},
"layer":[
{"data":{"name":"curves"},"transform":[{"filter":"datum.p=='b'"}],
 "mark":{"type":"line","strokeWidth":1},
 "encoding":{
  "x":{"field":"x","type":"quantitative","scale":{"domain":[-4,4],"nice":false},"axis":{"values":[-4,-2,0,2,4],"title":"Story drift (%)","grid":true,"gridColor":"#d0d0d0","gridDash":[3,3],"gridWidth":1,"ticks":false,"domain":false,"labelPadding":15,"titlePadding":7,"labelFlush":false,"labelOverlap":false,"labelExpr":"''+datum.value"}},
  "y":{"field":"y","type":"quantitative","scale":{"domain":[-250,250],"nice":false},"axis":{"values":[-250,-150,-50,50,150,250],"title":"Lateral load (kN)","grid":true,"gridColor":"#d0d0d0","gridDash":[3,3],"gridWidth":1,"ticks":false,"domain":false,"labelPadding":22,"labelFlush":false,"labelOverlap":false,"labelExpr":"''+datum.value","titleX":-86,"titleY":202,"titleBaseline":"middle"}},
  "order":{"field":"i","type":"quantitative"},
  "color":{"field":"s","type":"nominal","scale":{"domain":["E","S"],"range":["#1c2d6b","#ff0000"]},"legend":{"title":null,"orient":"none","legendX":-25,"legendY":-52,"direction":"horizontal","symbolType":"M-10,0H10","symbolSize":38.44,"symbolStrokeWidth":1,"labelFontSize":24,"labelFont":"Liberation Serif","labelColor":"black","labelOffset":31,"columnPadding":26,"labelLimit":0,"labelExpr":"datum.label=='E'?'Experimental':'Seismostruct'"}},
  "strokeDash":{"field":"s","type":"nominal","scale":{"domain":["E","S"],"range":[[1,0],[2,2]]},"legend":{"title":null,"orient":"none","legendX":-25,"legendY":-52,"direction":"horizontal","symbolType":"M-10,0H10","symbolSize":38.44,"symbolStrokeWidth":1,"labelFontSize":24,"labelFont":"Liberation Serif","labelColor":"black","labelOffset":31,"columnPadding":26,"labelLimit":0,"labelExpr":"datum.label=='E'?'Experimental':'Seismostruct'"}}
 }},
{"data":{"name":"pts"},"transform":[{"filter":"datum.p=='b'"}],
 "mark":{"type":"point","shape":"triangle-up","filled":true,"fill":"#ffff00","stroke":"#77ac3c","strokeWidth":3,"size":90,"opacity":1},
 "encoding":{
  "x":{"field":"x","type":"quantitative","scale":{"domain":[-4,4],"nice":false},"axis":{"orient":"bottom","offset":-178,"values":[-2,2],"labels":false,"grid":false,"domain":true,"domainColor":"black","domainWidth":2,"ticks":true,"tickSize":-7,"tickColor":"black","tickWidth":1.5,"title":null}},
  "y":{"field":"y","type":"quantitative","scale":{"domain":[-250,250],"nice":false},"axis":{"orient":"left","offset":-209,"values":[-150,-50,50,150],"labels":false,"grid":false,"domain":true,"domainColor":"black","domainWidth":2,"ticks":true,"tickSize":-7,"tickColor":"black","tickWidth":1.5,"title":null}}
 }},
{"data":{"name":"pts"},"transform":[{"filter":"datum.p=='b'"}],
 "mark":{"type":"text","fontSize":24,"fontWeight":"bold","font":"Liberation Serif","baseline":"middle","align":"center","color":"black"},
 "encoding":{
  "x":{"field":"lx","type":"quantitative","scale":{"domain":[-4,4],"nice":false},"axis":null},
  "y":{"field":"ly","type":"quantitative","scale":{"domain":[-250,250],"nice":false},"axis":null},
  "text":{"field":"label"}
 }},
{"data":{"values":[{}]},
 "mark":{"type":"rect","fill":"white","stroke":"#333333","strokeWidth":1.5},
 "encoding":{
  "x":{"datum":-3.76,"type":"quantitative","scale":{"domain":[-4,4],"nice":false},"axis":null},"x2":{"datum":-0.21},
  "y":{"datum":212,"type":"quantitative","scale":{"domain":[-250,250],"nice":false},"axis":null},"y2":{"datum":109}
 }},
{"data":{"values":[{}]},
 "mark":{"type":"text","text":["Masonry infilled","RC frame"],"lineHeight":23,"fontSize":20,"fontWeight":"bold","font":"Liberation Serif","align":"left","baseline":"middle","color":"black"},
 "encoding":{
  "x":{"datum":-3.39,"type":"quantitative","scale":{"domain":[-4,4],"nice":false},"axis":null},
  "y":{"datum":165,"type":"quantitative","scale":{"domain":[-250,250],"nice":false},"axis":null}
 }}
]
}
]
}
